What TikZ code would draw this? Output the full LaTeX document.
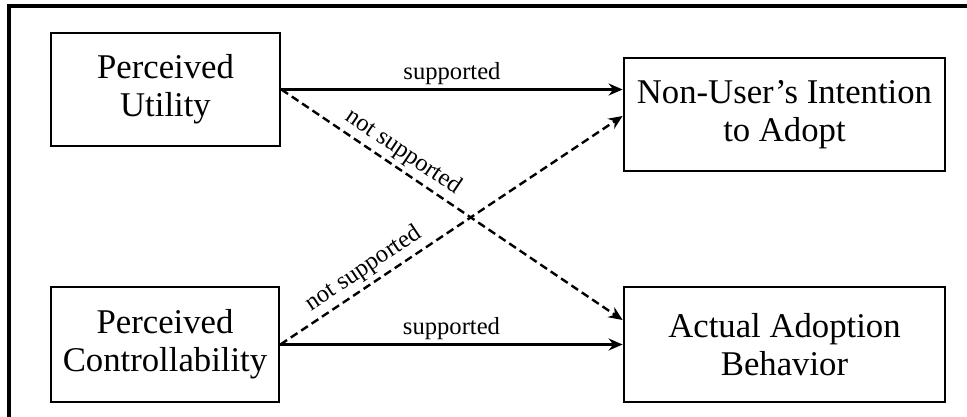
\documentclass[tikz,border=0pt]{standalone}
\usepackage{fontspec}
\setmainfont{Liberation Serif}
\usetikzlibrary{arrows.meta}

\begin{document}
\begin{tikzpicture}[x=1pt, y=-1pt,
    box/.style={draw, line width=2.8pt, align=center, inner sep=0pt,
      font=\fontsize{34.7}{38}\selectfont},
    link/.style={line width=2.4pt, -{Stealth[length=14pt, width=12pt]}},
    nosup/.style={link, dash pattern=on 8pt off 4.5pt},
    lbl/.style={font=\fontsize{24.6}{28}\selectfont, inner sep=4pt}]

  \useasboundingbox (0,0) rectangle (967,417);

  % Marco
  \draw[line width=3.2pt] (967,6) -- (9,6) -- (9,417);

  % Constructos
  \node[box, minimum width=229pt, minimum height=113pt] (pu) at (165.5,89.5) {Perceived\\Utility};
  \node[box, minimum width=228pt, minimum height=115pt] (pc) at (165,344.5) {Perceived\\Controllability};
  \node[box, minimum width=321pt, minimum height=113pt] (nui) at (784.5,114.5) {Non-User’s Intention\\to Adopt};
  \node[box, minimum width=321pt, minimum height=115pt] (aab) at (784.5,344.5) {Actual Adoption\\Behavior};

  % Relaciones soportadas
  \draw[link] (pu.east) -- (pu.east -| nui.west) node[lbl, midway, above] {supported};
  \draw[link] (pc.east) -- (pc.east -| aab.west) node[lbl, midway, above] {supported};

  % Relaciones no soportadas
  \draw[nosup] (pu.east) -- ([yshift=24.5pt]aab.west) node[lbl, pos=0.33, sloped, above] {not supported};
  \draw[nosup] (pc.east) -- ([yshift=-1.5pt]nui.west) node[lbl, pos=0.27, sloped, above] {not supported};

\end{tikzpicture}
\end{document}
